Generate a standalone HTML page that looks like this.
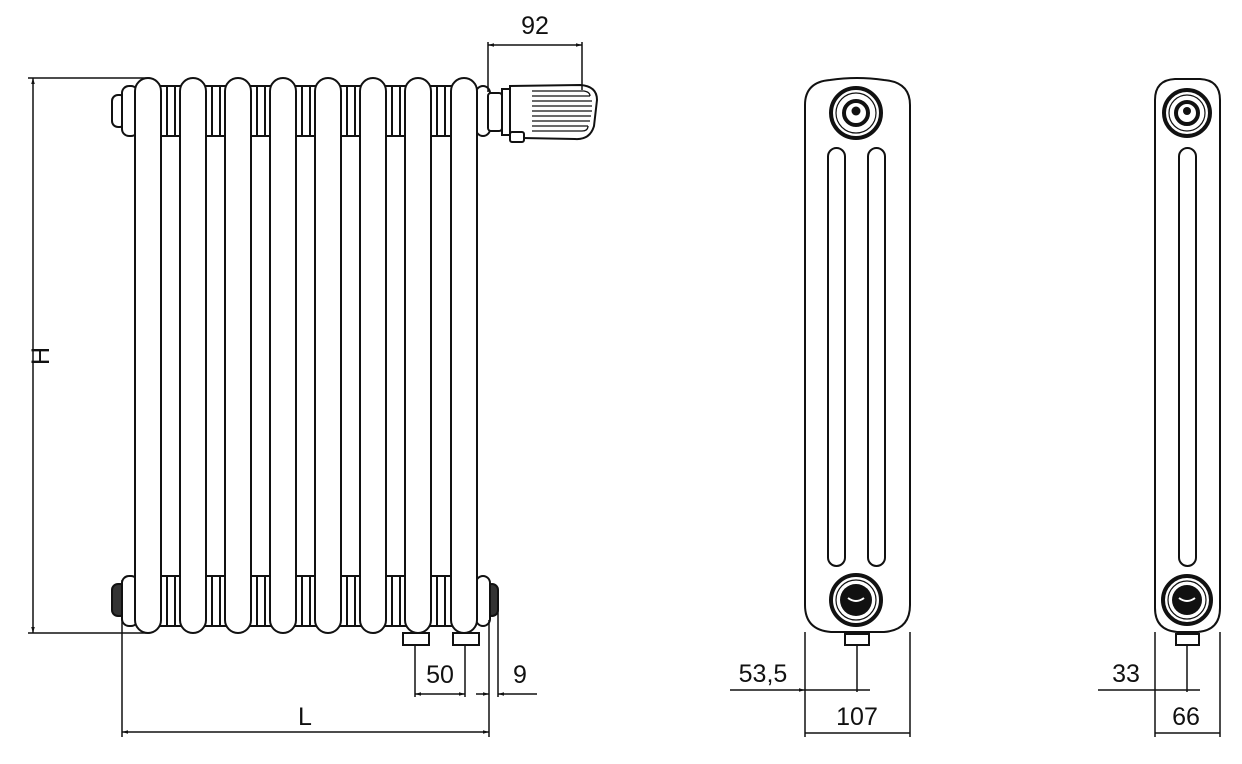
<!DOCTYPE html>
<html><head><meta charset="utf-8"><style>
html,body{margin:0;padding:0;background:#fff}
svg{display:block}
text{font-family:"Liberation Sans",sans-serif;font-size:25px;fill:#111}
</style></head><body>
<svg width="1242" height="764" viewBox="0 0 1242 764" xmlns="http://www.w3.org/2000/svg">
<defs>
<marker id="a" viewBox="0 0 10 10" refX="10" refY="5" markerWidth="8" markerHeight="6" orient="auto-start-reverse" markerUnits="userSpaceOnUse"><path d="M0,2 L10,5 L0,8 z" fill="#111"/></marker>
</defs>
<g fill="#fff" stroke="#111" stroke-width="2">
<rect x="112" y="95" width="14" height="32" rx="6"/>
<rect x="112" y="584" width="14" height="32" rx="6" fill="#333"/>
<rect x="486" y="584" width="12" height="32" rx="6" fill="#333"/>
<rect x="122" y="86" width="16" height="50" rx="7"/>
<rect x="122" y="576" width="16" height="50" rx="7"/>
<rect x="476" y="86" width="14" height="50" rx="7"/>
<rect x="476" y="576" width="14" height="50" rx="7"/>
<g id="hdr">
<rect x="158" y="86" width="26" height="50"/>
<line x1="167" y1="86" x2="167" y2="136"/><line x1="175" y1="86" x2="175" y2="136"/>
<rect x="158" y="576" width="26" height="50"/>
<line x1="167" y1="576" x2="167" y2="626"/><line x1="175" y1="576" x2="175" y2="626"/>
</g>
<use href="#hdr" x="45"/><use href="#hdr" x="90"/><use href="#hdr" x="135"/>
<use href="#hdr" x="180"/><use href="#hdr" x="225"/><use href="#hdr" x="270"/>
<rect x="135" y="78" width="26" height="555" rx="13"/>
<rect x="180" y="78" width="26" height="555" rx="13"/>
<rect x="225" y="78" width="26" height="555" rx="13"/>
<rect x="270" y="78" width="26" height="555" rx="13"/>
<rect x="315" y="78" width="26" height="555" rx="13"/>
<rect x="360" y="78" width="26" height="555" rx="13"/>
<rect x="405" y="78" width="26" height="555" rx="13"/>
<rect x="451" y="78" width="26" height="555" rx="13"/>
<rect x="403" y="633" width="26" height="12"/>
<rect x="453" y="633" width="26" height="12"/>
<rect x="488" y="93" width="14" height="38" rx="3"/>
<rect x="502" y="89" width="8" height="46"/>
<path d="M510,86 L580,85 Q597,86 597,100 L594,126 Q590,140 575,139 L522,138 Q510,138 510,130 Z"/>
<rect x="510" y="132" width="14" height="10" rx="2"/>
</g>
<g stroke="#111" stroke-width="1.3" fill="none">
<path d="M532,91 H584 Q590,92 590,96 M532,96 H590 M532,101 H592 M532,106 H592 M532,111 H592 M532,116 H591 M532,121 H590 M532,126 H588 M532,131 H582 Q588,131 588,126"/>
</g>
<g stroke="#111" stroke-width="1.5" fill="none">
<line x1="488" y1="42" x2="488" y2="92"/><line x1="582" y1="42" x2="582" y2="90"/>
<line x1="488" y1="45" x2="582" y2="45" marker-start="url(#a)" marker-end="url(#a)"/>
<line x1="28" y1="78" x2="150" y2="78"/><line x1="28" y1="633" x2="150" y2="633"/>
<line x1="33" y1="78" x2="33" y2="633" marker-start="url(#a)" marker-end="url(#a)"/>
<line x1="122" y1="580" x2="122" y2="737"/><line x1="489" y1="620" x2="489" y2="737"/>
<line x1="122" y1="732" x2="489" y2="732" marker-start="url(#a)" marker-end="url(#a)"/>
<line x1="415" y1="645" x2="415" y2="697"/><line x1="465" y1="645" x2="465" y2="697"/>
<line x1="415" y1="694" x2="465" y2="694" marker-start="url(#a)" marker-end="url(#a)"/>
<line x1="498" y1="598" x2="498" y2="697"/>
<line x1="476" y1="694" x2="489" y2="694" marker-end="url(#a)"/>
<line x1="537" y1="694" x2="498" y2="694" marker-end="url(#a)"/>
</g>
<text x="535" y="34" text-anchor="middle">92</text>
<text x="305" y="725" text-anchor="middle">L</text>
<text x="440" y="683" text-anchor="middle">50</text>
<text x="520" y="683" text-anchor="middle">9</text>
<text transform="translate(49,356) rotate(-90)" text-anchor="middle">H</text>

<g stroke="#111" stroke-width="2" fill="#fff">
<path d="M805,105 Q805,82 830,80 Q857,76 884,80 Q910,82 910,105 V605 Q910,630 884,632 H831 Q805,630 805,605 Z"/>
<rect x="828" y="148" width="17" height="418" rx="8.5"/>
<rect x="868" y="148" width="17" height="418" rx="8.5"/>
<rect x="845" y="634" width="24" height="11"/>
</g>
<g stroke="#111" fill="none">
<circle cx="856" cy="113" r="25" stroke-width="4"/><circle cx="856" cy="113" r="20" stroke-width="1.2"/>
<circle cx="856" cy="113" r="12" stroke-width="4"/>
<circle cx="856" cy="600" r="25" stroke-width="4"/><circle cx="856" cy="600" r="20" stroke-width="1.2"/>
</g>
<circle cx="856" cy="111" r="4.5" fill="#111"/>
<circle cx="856" cy="600" r="16" fill="#111"/>
<path d="M848,598 Q856,604 864,598" stroke="#fff" stroke-width="2" fill="none"/>
<g stroke="#111" stroke-width="1.5" fill="none">
<line x1="857" y1="645" x2="857" y2="692"/>
<line x1="730" y1="690" x2="805" y2="690" marker-end="url(#a)"/>
<line x1="805" y1="690" x2="870" y2="690"/>
<line x1="805" y1="632" x2="805" y2="737"/><line x1="910" y1="632" x2="910" y2="737"/>
<line x1="805" y1="733" x2="910" y2="733"/>
</g>
<text x="763" y="682" text-anchor="middle">53,5</text>
<text x="857" y="725" text-anchor="middle">107</text>

<g stroke="#111" stroke-width="2" fill="#fff">
<path d="M1155,100 Q1155,80 1175,79 H1200 Q1220,80 1220,100 V608 Q1220,630 1198,632 H1177 Q1155,630 1155,608 Z"/>
<rect x="1179" y="148" width="17" height="418" rx="8.5"/>
<rect x="1176" y="634" width="23" height="11"/>
</g>
<g stroke="#111" fill="none">
<circle cx="1187" cy="113" r="23" stroke-width="4"/><circle cx="1187" cy="113" r="18" stroke-width="1.2"/>
<circle cx="1187" cy="113" r="11" stroke-width="4"/>
<circle cx="1187" cy="600" r="24" stroke-width="4"/><circle cx="1187" cy="600" r="19" stroke-width="1.2"/>
</g>
<circle cx="1187" cy="111" r="4" fill="#111"/>
<circle cx="1187" cy="600" r="15" fill="#111"/>
<path d="M1179,598 Q1187,604 1195,598" stroke="#fff" stroke-width="2" fill="none"/>
<g stroke="#111" stroke-width="1.5" fill="none">
<line x1="1187" y1="645" x2="1187" y2="692"/>
<line x1="1098" y1="690" x2="1200" y2="690"/>
<line x1="1155" y1="632" x2="1155" y2="737"/><line x1="1220" y1="632" x2="1220" y2="737"/>
<line x1="1155" y1="733" x2="1220" y2="733"/>
</g>
<text x="1126" y="682" text-anchor="middle">33</text>
<text x="1186" y="725" text-anchor="middle">66</text>
</svg>
</body></html>
